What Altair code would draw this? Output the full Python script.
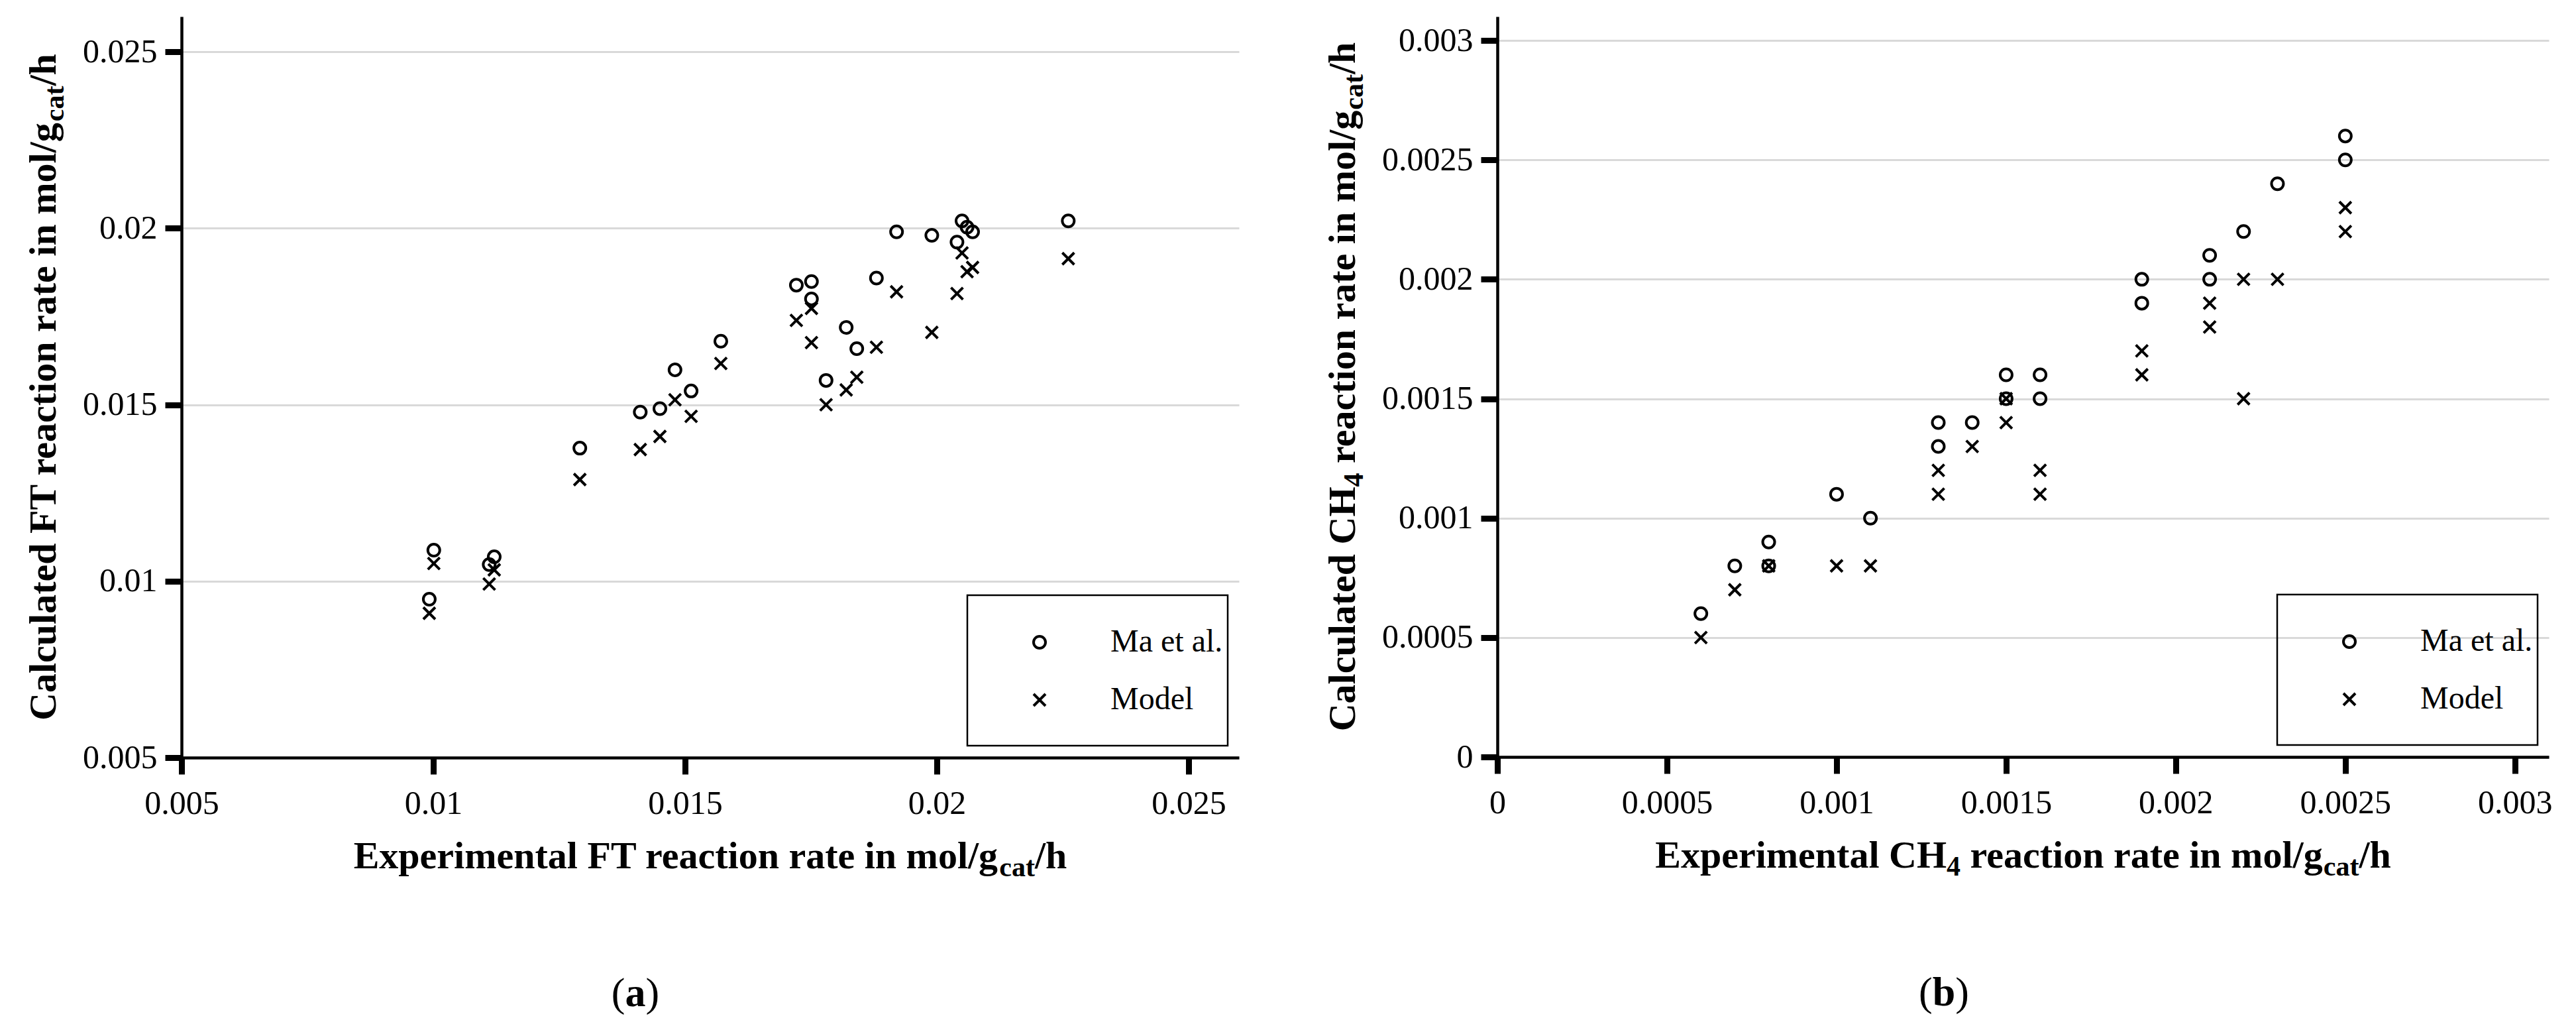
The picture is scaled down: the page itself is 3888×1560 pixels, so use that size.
import altair as alt
import pandas as pd

# ---------------- data ----------------
SERIES = ["Ma et al.", "Model"]

# panel (a): FT reaction rate
ft_exp = [0.00992, 0.01001, 0.01111, 0.01121, 0.01291, 0.01411, 0.0145, 0.0148,
          0.01512, 0.01571, 0.01721, 0.01751, 0.01751, 0.0178, 0.0182, 0.01841,
          0.0188, 0.0192, 0.0199, 0.0204, 0.0205, 0.0206, 0.02071, 0.02261]
ft_ma = [0.00949, 0.01088, 0.01047, 0.01069, 0.01377, 0.01479, 0.01489, 0.01599,
         0.01539, 0.0168, 0.01839, 0.01849, 0.018, 0.01569, 0.01719, 0.01659,
         0.01859, 0.0199, 0.0198, 0.01961, 0.02021, 0.02003, 0.0199, 0.02021]
ft_model = [0.00909, 0.0105, 0.00992, 0.01032, 0.01288, 0.01373, 0.0141, 0.01514,
            0.01467, 0.01617, 0.01739, 0.01773, 0.01676, 0.0150, 0.01542, 0.01578,
            0.01663, 0.0182, 0.01705, 0.01815, 0.0193, 0.01877, 0.01889, 0.01914]

# panel (b): CH4 reaction rate
ch4_ma_exp = [0.0006, 0.0007, 0.0008, 0.0008, 0.0010, 0.0011, 0.0013, 0.0013, 0.0014,
              0.0015, 0.0015, 0.0016, 0.0016, 0.0019, 0.0019, 0.0021, 0.0021, 0.0022,
              0.0023, 0.0025, 0.0025]
ch4_ma = [0.0006, 0.0008, 0.0009, 0.0008, 0.0011, 0.0010, 0.0014, 0.0013, 0.0014,
          0.0016, 0.0015, 0.0016, 0.0015, 0.0020, 0.0019, 0.0021, 0.0020, 0.0022,
          0.0024, 0.0026, 0.0025]
ch4_model_exp = [0.0006, 0.0007, 0.0008, 0.0010, 0.0011, 0.0013, 0.0013, 0.0014, 0.0015,
                 0.0015, 0.0016, 0.0016, 0.0019, 0.0019, 0.0021, 0.0021, 0.0022, 0.0022,
                 0.0023, 0.0025, 0.0025]
ch4_model = [0.0005, 0.0007, 0.0008, 0.0008, 0.0008, 0.0012, 0.0011, 0.0013, 0.0015,
             0.0014, 0.0012, 0.0011, 0.0017, 0.0016, 0.0019, 0.0018, 0.0020, 0.0015,
             0.0020, 0.0023, 0.0022]

ft_ticks = [0.005, 0.01, 0.015, 0.02, 0.025]
ch4_ticks = [0, 0.0005, 0.001, 0.0015, 0.002, 0.0025, 0.003]

# ---------------- styling helpers ----------------
FONT = "Liberation Serif"
CROSS = "M-1,-1L1,1M-1,1L1,-1"
S_MAIN = 58
S_SUB = 42
SUB_SHIFT = 12
MARK_SIZE = 324
MARK_STROKE = 4

TB = {' ': 250, '(': 333, ')': 333, '/': 278, '.': 250,
      'A': 722, 'B': 667, 'C': 722, 'D': 722, 'E': 667, 'F': 611, 'G': 778, 'H': 778,
      'I': 389, 'M': 944, 'T': 667,
      'a': 500, 'b': 556, 'c': 444, 'd': 556, 'e': 444, 'f': 333, 'g': 500, 'h': 556,
      'i': 278, 'l': 278, 'm': 833, 'n': 556, 'o': 500, 'p': 556, 'r': 444, 's': 389,
      't': 333, 'u': 556, 'x': 500}
for d in "0123456789":
    TB[d] = 500


def tw(s, size):
    return sum(TB.get(c, 500) for c in s) / 1000.0 * size


one = pd.DataFrame({"k": [0]})


def text_layer(t, px, py, size, bold=True, angle=0, align="left"):
    kw = dict(text=t, font=FONT, fontSize=size, align=align, baseline="alphabetic",
              color="black")
    if bold:
        kw["fontWeight"] = "bold"
    if angle:
        kw["angle"] = angle
    return alt.Chart(one).mark_text(**kw).encode(x=alt.value(px), y=alt.value(py))


def title_layers(pieces, W, H, horizontal, base):
    sizes = [S_SUB if sub else S_MAIN for _, sub in pieces]
    total = sum(tw(t, s) for (t, _), s in zip(pieces, sizes))
    layers = []
    cum = 0.0
    for (t, sub), s in zip(pieces, sizes):
        lead = len(t) - len(t.lstrip(" "))
        off = cum + tw(" " * lead, s)
        shift = SUB_SHIFT if sub else 0
        if horizontal:
            layers.append(text_layer(t.strip(), W / 2 - total / 2 + off, base + shift, s))
        else:
            layers.append(text_layer(t.strip(), base + shift, H / 2 + total / 2 - off, s,
                                     angle=270))
        cum += tw(t, s)
    return layers


def make_panel(df, dom, ticks, W, H, xpieces, ypieces, ybase, letter, cx):
    shape_scale = alt.Scale(domain=SERIES, range=["circle", CROSS])
    box_l, box_t = W - 410, H - 245
    legend = alt.Legend(orient="none", legendX=box_l + 85, legendY=box_t + 47,
                        title=None, padding=0, labelFont=FONT, labelFontSize=48,
                        labelColor="black", labelLimit=400, symbolStrokeColor="black",
                        symbolFillColor="transparent", symbolStrokeWidth=MARK_STROKE,
                        symbolSize=MARK_SIZE, labelOffset=83, rowPadding=39)
    pts = alt.Chart(df).mark_point(filled=False, color="black", strokeWidth=MARK_STROKE,
                                   size=MARK_SIZE, opacity=1).encode(
        x=alt.X("exp:Q", scale=alt.Scale(domain=dom, nice=False, zero=False),
                axis=alt.Axis(values=ticks, format="~g", title=None, grid=False,
                              labelPadding=19)),
        y=alt.Y("calc:Q", scale=alt.Scale(domain=dom, nice=False, zero=False),
                axis=alt.Axis(values=ticks, format="~g", title=None, grid=True,
                              labelPadding=12)),
        shape=alt.Shape("series:N", scale=shape_scale, legend=legend),
    )
    box = alt.Chart(one).mark_rect(fill="white", fillOpacity=0, stroke="black",
                                   strokeWidth=2.5).encode(
        x=alt.value(box_l), x2=alt.value(W - 17), y=alt.value(box_t), y2=alt.value(H - 18))
    layers = [box, pts]
    layers += title_layers(xpieces, W, H, True, H + 167)
    layers += title_layers(ypieces, W, H, False, ybase)
    # panel letter "(a)" / "(b)"
    lw = tw(letter, 62)
    layers.append(text_layer("(", cx - lw / 2, H + 375, 62, bold=False, align="right"))
    layers.append(text_layer(letter, cx, H + 375, 62, bold=True, align="center"))
    layers.append(text_layer(")", cx + lw / 2, H + 375, 62, bold=False, align="left"))
    return alt.layer(*layers).properties(width=W, height=H)


df_a = pd.DataFrame({
    "exp": ft_exp + ft_exp,
    "calc": ft_ma + ft_model,
    "series": [SERIES[0]] * len(ft_ma) + [SERIES[1]] * len(ft_model),
})
df_b = pd.DataFrame({
    "exp": ch4_ma_exp + ch4_model_exp,
    "calc": ch4_ma + ch4_model,
    "series": [SERIES[0]] * len(ch4_ma) + [SERIES[1]] * len(ch4_model),
})

panel_a = make_panel(
    df_a, [0.005, 0.026], ft_ticks, 1596, 1118,
    [("Experimental FT reaction rate in mol/g", False), ("cat", True), ("/h", False)],
    [("Calculated FT reaction rate in mol/g", False), ("cat", True), ("/h", False)],
    -190, "a", 685)

panel_b = make_panel(
    df_b, [0, 0.0031], ch4_ticks, 1587, 1117,
    [("Experimental CH", False), ("4", True), (" reaction rate in mol/g", False),
     ("cat", True), ("/h", False)],
    [("Calculated CH", False), ("4", True), (" reaction rate in mol/g", False),
     ("cat", True), ("/h", False)],
    -215, "b", 674)

chart = alt.hconcat(panel_a, panel_b, spacing=128).resolve_scale(
    shape="independent").resolve_legend(shape="independent").properties(
    padding={"left": 29, "top": 17, "right": 5, "bottom": 5},
    background="white",
).configure_view(strokeOpacity=0).configure_axis(
    domainColor="black", domainWidth=4.5, tickColor="black", tickWidth=9, tickSize=25,
    labelFont=FONT, labelFontSize=50, labelColor="black", labelFlush=False,
    labelOverlap=False, labelBound=False, gridColor="#d9d9d9", gridWidth=3,
)

chart.save("out.html", embed_options={"renderer": "svg", "actions": False})
